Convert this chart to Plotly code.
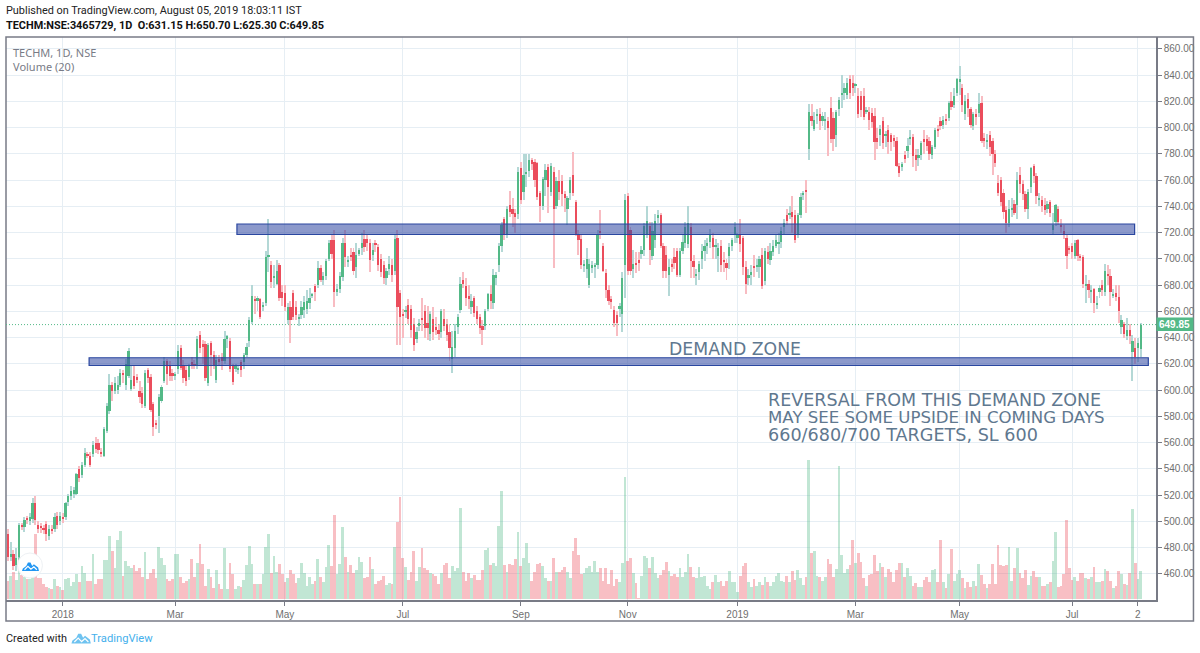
import numpy as np
import plotly.graph_objects as go

# candles, one value per trading day (TECHM 1D)
opens = [
    490,473,475,467,473,497,496,502,500,502,
    514,497,496,495,498,489,494,494,504,500,
    503,503,515,519,521,521,540,535,543,551,
    550,551,560,560,553,550,569,584,604,599,
    600,604,613,604,611,601,611,610,599,598,
    588,615,610,589,575,580,592,607,622,618,
    613,611,616,632,619,615,610,621,620,618,
    642,635,635,605,636,627,608,624,625,622,
    639,637,618,616,616,621,621,627,637,652,
    669,668,669,663,666,701,695,685,681,695,
    675,674,653,663,674,663,654,657,661,662,
    666,672,679,680,693,684,687,700,714,714,
    675,677,686,712,698,703,705,694,704,708,
    715,715,712,703,712,709,700,695,685,692,
    695,691,716,674,658,660,665,662,650,639,
    649,655,660,651,643,654,648,646,644,654,
    650,644,624,632,648,661,684,679,672,663,
    670,660,656,649,649,662,673,666,685,695,
    710,730,719,741,738,735,734,769,751,765,
    767,775,774,773,750,740,760,770,751,766,
    740,759,759,749,738,750,764,743,718,715,
    695,692,680,693,694,695,721,710,689,676,
    669,661,657,662,658,695,748,722,692,697,
    699,704,707,718,725,702,714,731,733,710,
    703,688,696,701,706,688,706,712,711,724,
    698,687,690,700,706,710,713,716,709,702,
    710,699,697,702,710,719,716,719,716,694,
    685,688,694,694,694,703,683,705,699,705,
    710,711,713,724,733,733,736,733,718,733,
    749,752,784,809,799,809,810,805,805,805,
    815,807,794,814,825,826,825,837,834,832,
    824,824,824,812,812,811,809,792,794,805,
    794,798,794,792,790,771,770,779,782,792,
    793,779,777,779,791,791,790,779,785,799,
    805,802,806,807,820,817,826,835,830,810,
    822,814,801,810,811,819,792,789,794,790,
    780,758,760,750,737,727,737,742,741,764,
    757,749,738,755,771,763,745,745,741,738,
    743,722,728,738,726,721,716,708,710,702,
    714,702,701,680,681,675,677,665,675,680,
    675,688,687,672,674,671,648,650,641,646,
    629,632,632,631.15,
]
closes = [
    473,475,466,472,497,496,501,501,503,514,
    501,494,495,494,490,494,493,503,497,504,
    502,514,519,523,524,536,533,543,552,550,
    543,558,555,554,552,570,588,604,599,605,
    604,613,612,620,630,608,603,608,595,589,
    613,609,585,572,574,595,602,622,612,611,
    611,612,630,617,609,607,618,619,619,639,
    632,633,609,634,627,619,623,621,622,639,
    641,616,606,618,617,615,627,633,653,672,
    668,670,656,665,701,703,682,687,691,670,
    670,663,663,653,656,657,656,663,667,668,
    670,673,675,693,684,687,698,712,704,675,
    677,687,712,701,699,701,691,703,707,712,
    709,712,699,707,711,695,690,685,691,696,
    688,715,663,656,657,661,654,646,634,644,
    651,654,647,647,658,644,646,643,660,649,
    642,632,633,645,656,681,681,670,669,668,
    659,654,647,646,660,673,668,688,688,710,
    726,718,738,736,734,732,766,745,764,766,
    775,772,760,747,740,761,768,755,771,738,
    759,751,749,746,746,760,750,719,714,695,
    696,700,696,695,695,718,720,691,676,668,
    667,651,651,664,685,745,691,691,696,695,
    697,707,725,729,707,721,729,733,710,691,
    691,694,694,697,688,706,713,724,727,698,
    694,688,696,706,710,712,719,709,710,708,
    695,698,693,709,714,724,719,711,694,681,
    688,690,693,695,700,679,706,700,706,710,
    714,713,721,727,729,735,732,714,733,747,
    750,751,812,805,806,810,805,809,806,800,
    791,791,812,821,826,830,834,826,830,833,
    810,813,808,813,806,804,789,789,799,788,
    795,789,789,790,771,765,772,776,786,793,
    778,775,779,788,789,786,780,785,798,798,
    801,806,805,819,816,824,837,837,817,820,
    815,802,810,808,818,790,790,790,785,780,
    773,750,743,736,727,738,739,735,760,757,
    749,738,751,769,763,748,746,740,737,742,
    735,726,741,728,724,718,702,707,705,712,
    702,701,681,681,676,676,666,666,678,676,
    691,687,675,673,671,660,653,643,646,641,
    637,625,636,649.85,
]
highs = [
    494,484,478,480,499,499,503,504,506,518,
    519,500,499,497,500,497,497,506,507,507,
    506,515,521,527,526,537,542,545,556,553,
    553,561,564,563,556,572,590,612,606,610,
    611,616,615,624,632,618,619,612,607,602,
    615,617,612,591,577,597,604,625,624,622,
    616,614,634,634,623,618,620,625,623,641,
    645,638,637,636,637,630,627,627,628,645,
    642,640,620,620,619,623,628,636,656,680,
    672,672,670,667,706,730,698,695,699,697,
    680,680,666,668,676,668,658,668,672,676,
    678,674,681,698,695,690,700,714,718,722,
    681,690,716,722,702,708,708,712,708,720,
    722,718,715,712,714,711,704,698,693,702,
    700,718,722,676,662,664,669,665,655,648,
    654,670,665,664,660,663,656,650,662,662,
    654,650,645,650,658,686,690,685,680,673,
    672,664,658,653,662,674,680,692,690,712,
    728,732,740,752,746,738,770,774,780,780,
    780,777,776,774,752,762,772,772,773,770,
    762,768,764,752,748,762,781,745,722,718,
    699,708,700,698,697,722,737,712,692,680,
    672,664,660,666,690,749,750,724,707,705,
    705,710,727,740,728,728,734,737,735,712,
    710,700,700,708,708,708,718,728,740,727,
    703,692,698,711,714,716,723,720,715,712,
    714,705,700,712,716,728,720,730,717,698,
    692,695,703,700,702,708,708,710,712,714,
    718,720,724,730,738,740,748,737,735,750,
    752,760,818,818,812,814,815,812,812,808,
    823,812,813,823,840,834,838,840,840,834,
    830,828,830,816,816,815,815,800,802,808,
    797,802,796,794,793,773,774,782,792,798,
    795,784,784,790,798,794,793,787,800,802,
    808,809,810,820,827,830,838,847,833,825,
    826,816,812,814,826,824,796,795,797,792,
    783,764,762,753,740,745,746,745,766,770,
    760,752,753,770,772,765,750,748,746,744,
    745,735,742,740,730,726,718,710,712,714,
    715,704,703,688,684,680,678,672,680,684,
    696,695,692,677,680,680,657,652,655,650,
    642,640,640,650.7,
]
lows = [
    470,470,463,462,470,493,492,498,497,499,
    497,491,491,490,485,486,490,492,494,497,
    499,501,512,516,518,520,530,533,541,548,
    541,549,552,551,549,549,567,582,592,597,
    597,602,605,600,609,599,601,605,590,586,
    586,605,583,565,570,567,590,605,604,607,
    607,608,612,615,605,603,608,616,616,616,
    628,620,607,603,611,616,605,618,615,620,
    632,614,604,614,612,610,616,625,633,650,
    658,660,654,660,664,690,678,678,680,668,
    664,660,650,636,653,653,649,654,655,658,
    662,670,668,678,682,680,684,698,700,663,
    672,674,683,694,694,698,688,685,702,703,
    705,706,690,698,705,691,686,681,680,688,
    682,688,634,634,640,655,650,640,630,636,
    645,645,640,638,637,638,642,638,640,645,
    637,622,613,625,643,659,678,664,662,658,
    656,650,643,634,646,660,662,662,680,690,
    705,714,716,732,724,720,730,742,745,755,
    762,768,755,745,728,737,748,735,748,693,
    738,745,740,736,726,745,748,717,703,692,
    690,685,678,689,685,692,715,690,670,665,
    662,648,641,656,644,670,688,688,685,689,
    691,700,702,716,695,699,708,727,708,685,
    685,672,690,692,686,686,704,708,708,685,
    685,680,684,692,698,704,708,700,700,690,
    690,690,684,692,706,712,712,705,688,673,
    680,680,686,690,685,677,680,696,695,702,
    708,704,708,719,726,730,720,712,716,731,
    745,735,775,801,797,803,798,801,798,778,
    788,782,785,809,815,821,822,822,824,826,
    807,808,806,810,798,800,775,784,786,784,
    785,780,782,785,770,762,767,773,777,787,
    770,767,771,775,780,782,775,776,784,793,
    798,799,802,805,813,815,824,825,812,806,
    808,800,798,802,808,788,785,784,778,764,
    770,748,740,730,720,724,732,733,730,750,
    745,736,730,750,758,742,740,736,733,735,
    732,718,725,726,720,715,692,704,700,700,
    698,698,678,666,670,666,659,662,670,672,
    672,680,664,670,668,651,643,640,638,635,
    607,620,621,625.3,
]
volumes = [
    18,23,27,19,42,24,22,20,20,30,
    65,21,21,15,12,11,10,20,13,12,
    9,20,21,13,17,25,17,33,26,18,
    18,45,15,20,20,39,39,63,48,31,
    59,68,23,38,33,31,34,28,31,22,
    47,20,26,30,21,52,41,34,20,18,
    20,45,45,22,16,18,20,40,22,36,
    55,35,13,30,22,11,29,15,10,51,
    10,36,25,10,13,12,19,34,53,35,
    15,15,15,25,52,65,26,43,27,35,
    25,17,21,29,25,16,21,36,26,13,
    22,15,18,40,22,17,32,54,33,84,
    25,35,72,42,27,34,26,29,42,37,
    21,22,42,30,15,18,19,23,14,16,
    15,52,77,102,41,32,19,27,48,18,
    32,51,31,29,26,25,23,15,26,34,
    36,21,33,28,31,91,27,18,26,21,
    24,19,19,29,49,51,34,36,33,73,
    108,34,27,35,34,40,67,33,41,56,
    36,18,27,35,36,33,21,18,18,41,
    27,27,29,32,27,21,48,61,44,25,
    26,31,33,27,38,27,31,18,31,15,
    29,13,20,17,36,122,38,41,26,16,
    1,23,43,41,31,42,26,21,24,29,
    37,28,23,25,22,31,22,27,45,32,
    22,21,32,22,23,13,10,17,24,17,
    18,13,18,28,17,17,7,23,33,36,
    17,12,20,13,17,14,22,17,13,17,
    23,26,18,17,23,17,28,19,29,21,
    14,22,139,46,48,23,22,18,22,40,
    35,22,30,133,44,26,30,34,59,36,
    46,37,21,13,24,25,44,28,36,32,
    22,30,27,17,29,36,36,22,31,23,
    13,16,12,12,19,22,17,29,30,17,
    59,17,11,25,50,18,25,29,21,11,
    17,12,18,13,35,24,15,11,15,35,
    15,54,34,33,34,52,18,31,51,26,
    21,29,14,23,28,22,22,13,13,15,
    17,38,67,12,13,25,79,31,19,22,
    18,26,26,21,20,22,32,17,17,18,
    30,28,18,11,13,28,25,15,14,26,
    90,36,20,28,
]

# axis labels
tick_bars = [20, 61, 101, 144, 187, 226, 266, 309, 347, 388, 412]
tick_labels = ['2018', 'Mar', 'May', 'Jul', 'Sep', 'Nov', '2019', 'Mar', 'May', 'Jul', '2']
price_ticks = list(range(460, 861, 20))

W, H = 1200, 653
LEFT, RIGHT, TOP, BOTTOM = 5.5, 1156.5, 37, 600
UP, DOWN = '#53b987', '#eb4d5c'
GRID = '#e6eef4'
NOTE = '#5f788f'
ZONE_FILL = 'rgba(52,76,164,0.57)'
ZONE_LINE = '#2a47a0'


def px(x):
    return (x - LEFT) / (RIGHT - LEFT)


def py(y):
    return (BOTTOM - y) / (BOTTOM - TOP)


def label(x, y, text, size=12, color='#222222', font='Roboto', anchor='left', bold=False):
    if bold:
        text = '<b>' + text + '</b>'
    fig.add_annotation(x=px(x), y=py(y), xref='paper', yref='paper', text=text, showarrow=False,
                       xanchor=anchor, yanchor='middle', borderpad=0, borderwidth=0,
                       font=dict(size=size, color=color, family=font))


o = np.array(opens)
c = np.array(closes)
hi = np.array(highs)
lo = np.array(lows)
bars = np.arange(len(o))
is_up = c >= o

fig = go.Figure()

# volume first, on its own overlaid axis
fig.add_trace(go.Bar(x=bars, y=volumes, yaxis='y2', width=1, marker_line_width=0,
                     marker_color=np.where(is_up, 'rgba(83,185,135,0.36)', 'rgba(235,77,92,0.36)')))
# wicks
fig.add_trace(go.Bar(x=bars, y=hi - lo, base=lo, width=0.36, marker_line_width=0,
                     marker_color=np.where(is_up, '#b4d8d6', '#f8bcc2')))
# bodies
fig.add_trace(go.Bar(x=bars, y=np.maximum(np.abs(c - o), 1), base=np.minimum(o, c), width=0.82,
                     marker_line_width=0, marker_color=np.where(is_up, UP, DOWN)))

fig.update_layout(
    width=W, height=H, autosize=False,
    margin=dict(l=LEFT, r=W - RIGHT, t=TOP, b=H - BOTTOM, pad=0),
    paper_bgcolor='white', plot_bgcolor='white',
    showlegend=False, barmode='overlay', bargap=0,
    xaxis=dict(range=[-0.7, 418.6], tickmode='array', tickvals=tick_bars, ticktext=tick_labels,
               showgrid=True, gridcolor=GRID, gridwidth=1, zeroline=False,
               showline=True, linecolor='#787b86', linewidth=1.5,
               ticks='outside', ticklen=4, tickcolor='#787b86',
               tickfont=dict(family='Liberation Sans', size=10, color='#6f6f6f')),
    yaxis=dict(range=[440, 869], side='right', tickmode='array', tickvals=price_ticks,
               tickformat='.2f', showgrid=True, gridcolor=GRID, gridwidth=1, zeroline=False,
               showline=True, linecolor='#787b86', linewidth=1.5,
               ticks='outside', ticklen=4, tickcolor='#787b86',
               tickfont=dict(family='Liberation Sans', size=10, color='#6f6f6f')),
    yaxis2=dict(range=[-1.3, 561.7], overlaying='y', visible=False),
)

# outer frame of the snapshot
fig.add_shape(type='rect', xref='paper', yref='paper', x0=px(5.5), x1=px(1194), y0=py(621), y1=py(37),
              line=dict(color='#787b86', width=1.5))

# demand / supply zones, drawn over the candles
fig.add_shape(type='rect', x0=83.5, x1=410.8, y0=718.5, y1=726.5, layer='above',
              fillcolor=ZONE_FILL, line=dict(color=ZONE_LINE, width=1.2))
fig.add_shape(type='rect', x0=29.6, x1=415.8, y0=618.7, y1=624.6, layer='above',
              fillcolor=ZONE_FILL, line=dict(color=ZONE_LINE, width=1.2))

# last price line and tag
fig.add_shape(type='line', xref='paper', x0=0, x1=1, y0=closes[-1], y1=closes[-1],
              line=dict(color=UP, width=1, dash='1px,2px'))
fig.add_shape(type='rect', xref='paper', yref='paper', x0=px(1157), x1=px(1194), y0=py(331), y1=py(317.5),
              fillcolor=UP, line_width=0)
label(1175.5, 324.5, f'{closes[-1]:.2f}', size=10, color='white', font='Liberation Sans', anchor='center', bold=True)

# header
label(5, 10.5, 'Published on TradingView.com, August 05, 2019 18:03:11 IST', size=10.9)
label(5, 25.5, 'TECHM:NSE:3465729, 1D  O:631.15 H:650.70 L:625.30 C:649.85', size=10.9, color='#111111', bold=True)
label(13, 52, 'TECHM, 1D, NSE', size=11, color='#787b86', font='Noto Sans')
label(13, 66.5, 'Volume (20)', size=11, color='#787b86', font='Noto Sans')

# notes on the chart
label(669, 348.5, 'DEMAND ZONE', size=17.3, color=NOTE, font='DejaVu Sans')
label(768, 400, 'REVERSAL FROM THIS DEMAND ZONE', size=17.5, color=NOTE, font='DejaVu Sans')
label(768, 417.5, 'MAY SEE SOME UPSIDE IN COMING DAYS', size=16.6, color=NOTE, font='DejaVu Sans')
label(768, 435, '660/680/700 TARGETS, SL 600', size=17.6, color=NOTE, font='DejaVu Sans')

# footer with logo
label(5, 638, 'Created with', size=10.9)
label(91, 638, 'TradingView', size=11.2, color='#45b0ec')


def poly(x, y, s, pts):
    return 'M ' + ' L '.join(f'{px(x + a * s):.5f},{py(y + b * s):.5f}' for a, b in pts)


def cloud(x, y, s, color):
    # two peak cloud with the white zigzag, x/y is its left end on the baseline
    body = [(0, 0), (1, -3), (5, -6), (7, -10), (10, -10), (12, -6), (14, -8), (19, -4), (20, 0)]
    zigzag = [(3, -1.5), (7, -5.5), (10.5, -2), (14, -5), (17.5, -1.5)]
    fig.add_shape(type='path', xref='paper', yref='paper', path=poly(x, y, s, body) + ' Z',
                  fillcolor=color, line_width=0)
    fig.add_shape(type='path', xref='paper', yref='paper', path=poly(x, y, s, zigzag),
                  line=dict(color='white', width=1.2))


cloud(71, 643.5, 0.97, '#6fc3f0')
fig.add_shape(type='circle', xref='paper', yref='paper', x0=px(17), x1=px(42), y0=py(578), y1=py(553),
              fillcolor='white', line=dict(color='#eef1f4', width=1))
cloud(21.5, 571, 0.85, '#2196f3')

# the page's default body margin would push the snapshot off its frame
fig.write_html("out.html", config={'displayModeBar': False}, post_script="document.body.style.margin='0';")
